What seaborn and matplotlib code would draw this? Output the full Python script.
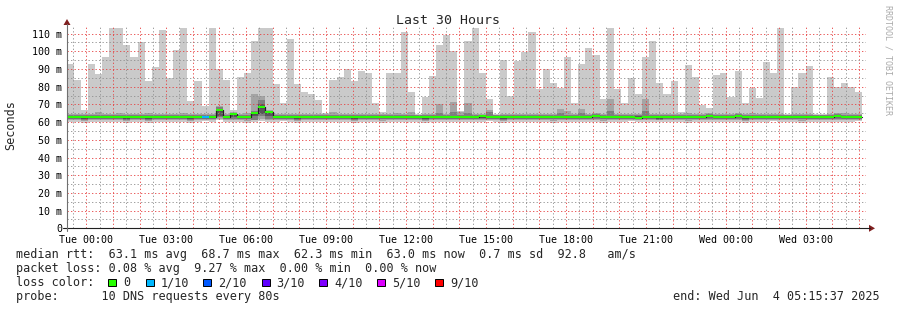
import numpy as np
import pandas as pd
import matplotlib
matplotlib.use("Agg")
import matplotlib.pyplot as plt
from matplotlib.lines import Line2D
from matplotlib.patches import Rectangle, Polygon
import seaborn as sns

# ---------------- data ----------------
start_hour = -0.7397    # Mon 23:15:37, in hours relative to Tue 00:00
end_hour = 29.2603      # Wed 05:15:37
step_hours = 16 / 60    # 960 s consolidation step

rtt_max = [
    92.7, 84.0, 67.0, 92.7, 87.0, 97.0, 113.0, 113.0, 103.4, 96.6,
    105.0, 83.0, 91.0, 112.0, 84.7, 101.0, 113.0, 72.0, 83.0, 69.0,
    113.0, 90.0, 84.0, 66.7, 85.3, 88.0, 105.6, 113.0, 113.0, 81.4,
    71.0, 107.0, 81.4, 76.8, 75.7, 72.3, 65.0, 84.0, 85.3, 90.0,
    83.0, 89.0, 88.0, 71.0, 65.5, 88.0, 88.0, 111.0, 76.8, 64.4,
    74.0, 86.0, 103.4, 109.0, 100.0, 66.0, 105.6, 113.0, 88.0, 73.0,
    64.4, 95.0, 75.0, 94.4, 99.4, 111.0, 78.5, 90.0, 82.0, 79.0,
    96.6, 71.0, 92.7, 101.7, 97.7, 73.0, 113.0, 78.5, 71.0, 84.7,
    75.7, 97.0, 105.6, 82.0, 75.7, 83.0, 65.5, 92.0, 85.3, 69.5,
    67.8, 86.4, 88.0, 74.0, 88.7, 70.6, 79.0, 73.4, 93.8, 87.6,
    113.0, 64.3, 79.7, 87.6, 91.5, 64.3, 64.3, 85.3, 79.7, 82.0,
    79.7, 76.8,
]
rtt_hi2 = [
    64.6, 64.6, 64.6, 64.6, 65.6, 64.6, 64.6, 65.2, 64.6, 64.6,
    64.6, 65.3, 64.6, 64.6, 64.6, 64.6, 65.0, 64.6, 64.6, 64.6,
    64.6, 69.0, 64.6, 65.6, 64.6, 65.0, 75.8, 74.7, 66.8, 64.6,
    64.6, 64.6, 64.6, 64.6, 64.6, 64.6, 64.6, 65.6, 64.6, 64.6,
    64.6, 64.6, 64.6, 64.6, 64.6, 64.6, 65.4, 64.6, 65.6, 64.2,
    64.6, 64.6, 70.2, 64.6, 71.4, 65.8, 70.7, 64.6, 64.6, 66.8,
    64.2, 64.6, 64.6, 64.6, 64.6, 64.8, 64.6, 64.6, 64.6, 67.4,
    66.0, 64.6, 67.4, 64.6, 64.9, 64.6, 73.0, 64.6, 64.6, 64.6,
    64.6, 73.0, 64.6, 64.6, 64.6, 64.6, 64.6, 65.0, 64.6, 64.6,
    64.9, 64.6, 64.6, 64.6, 64.9, 64.6, 65.2, 64.6, 64.6, 64.6,
    64.6, 64.1, 64.6, 64.6, 64.6, 64.1, 64.1, 64.6, 64.9, 65.0,
    64.6, 64.6,
]
rtt_hi3 = [
    63.9, 63.9, 63.9, 63.9, 63.9, 63.9, 63.9, 63.9, 63.9, 63.9,
    63.9, 63.9, 63.9, 63.9, 63.9, 63.9, 63.9, 63.9, 63.9, 63.9,
    63.9, 68.6, 63.8, 65.0, 63.8, 63.8, 66.5, 72.4, 66.2, 63.8,
    63.9, 63.9, 63.9, 63.9, 63.9, 63.9, 63.9, 63.9, 63.9, 63.9,
    63.9, 63.9, 63.9, 63.9, 63.9, 63.9, 63.9, 63.9, 63.9, 63.9,
    63.9, 63.9, 65.0, 63.9, 65.5, 63.9, 65.2, 63.9, 64.0, 65.5,
    63.9, 63.9, 63.9, 63.9, 63.9, 63.9, 63.9, 63.9, 63.9, 65.0,
    63.9, 63.9, 65.0, 63.9, 64.3, 63.9, 66.0, 63.9, 63.9, 63.9,
    63.9, 66.0, 63.9, 63.9, 63.9, 63.9, 63.9, 63.9, 63.9, 63.9,
    64.3, 63.9, 63.9, 63.9, 64.3, 63.9, 63.9, 63.9, 63.9, 63.9,
    63.9, 63.9, 63.9, 63.9, 63.9, 63.9, 63.9, 63.9, 64.3, 63.9,
    63.9, 63.9,
]
rtt_hi4 = [
    63.5, 63.5, 63.5, 63.5, 63.5, 63.5, 63.5, 63.5, 63.5, 63.5,
    63.5, 63.5, 63.5, 63.5, 63.5, 63.5, 63.5, 63.5, 63.5, 63.5,
    63.5, 67.5, 63.4, 64.7, 63.4, 63.4, 65.6, 70.0, 65.8, 63.4,
    63.5, 63.5, 63.5, 63.5, 63.5, 63.5, 63.5, 63.5, 63.5, 63.5,
    63.5, 63.5, 63.5, 63.5, 63.5, 63.5, 63.5, 63.5, 63.5, 63.5,
    63.5, 63.5, 63.5, 63.5, 63.5, 63.5, 63.5, 63.5, 63.7, 63.5,
    63.5, 63.5, 63.5, 63.5, 63.5, 63.5, 63.5, 63.5, 63.5, 63.5,
    63.5, 63.5, 63.5, 63.5, 64.0, 63.5, 63.5, 63.5, 63.5, 63.5,
    63.5, 63.5, 63.5, 63.5, 63.5, 63.5, 63.5, 63.5, 63.5, 63.5,
    64.0, 63.5, 63.5, 63.5, 64.0, 63.5, 63.5, 63.5, 63.5, 63.5,
    63.5, 63.5, 63.5, 63.5, 63.5, 63.5, 63.5, 63.5, 64.0, 63.5,
    63.5, 63.5,
]
rtt_median = [
    63.0, 62.8, 63.0, 63.0, 63.0, 63.0, 63.0, 63.0, 63.0, 63.0,
    63.0, 63.0, 63.0, 63.0, 63.0, 63.0, 63.0, 63.0, 63.0, 63.0,
    63.0, 66.7, 62.8, 64.3, 62.9, 62.9, 65.3, 68.8, 65.5, 62.9,
    63.0, 63.0, 62.6, 62.6, 63.0, 63.0, 63.0, 63.0, 62.8, 63.0,
    62.6, 62.6, 63.0, 63.0, 63.0, 63.0, 63.0, 63.0, 63.0, 63.0,
    62.6, 63.0, 63.0, 63.0, 63.0, 63.0, 63.0, 62.8, 63.3, 63.0,
    63.0, 63.0, 63.0, 63.0, 63.0, 63.0, 63.0, 63.0, 63.0, 63.0,
    63.0, 63.0, 63.0, 63.0, 63.6, 63.0, 63.0, 63.0, 63.0, 63.0,
    62.5, 63.0, 63.0, 63.0, 63.0, 63.0, 63.0, 63.0, 63.0, 63.0,
    63.6, 63.0, 63.0, 63.0, 63.6, 63.0, 63.0, 63.0, 63.0, 63.0,
    63.0, 63.0, 63.0, 63.0, 63.0, 62.6, 62.6, 63.0, 63.6, 63.0,
    63.0, 63.0,
]
rtt_lo4 = [
    62.4, 62.3, 62.0, 62.4, 62.4, 62.4, 62.4, 62.4, 62.0, 62.4,
    62.4, 62.0, 62.4, 62.4, 62.4, 62.4, 62.4, 62.0, 62.4, 62.4,
    62.4, 63.5, 62.3, 62.6, 62.4, 62.4, 63.5, 64.5, 63.5, 62.4,
    62.4, 62.4, 62.0, 62.2, 62.4, 62.4, 62.4, 62.4, 62.3, 62.4,
    62.0, 62.2, 62.4, 62.4, 62.4, 62.4, 62.4, 62.4, 62.4, 62.4,
    62.0, 62.4, 62.4, 62.4, 62.4, 62.4, 62.4, 62.3, 62.5, 62.4,
    62.4, 62.0, 62.4, 62.4, 62.4, 62.4, 62.4, 62.4, 62.4, 62.4,
    62.4, 62.4, 62.4, 62.4, 62.6, 62.4, 62.4, 62.4, 62.4, 62.4,
    62.0, 62.4, 62.4, 62.0, 62.4, 62.4, 62.4, 62.4, 62.4, 62.4,
    62.6, 62.4, 62.4, 62.4, 62.6, 62.0, 62.4, 62.4, 62.4, 62.4,
    62.4, 62.4, 62.4, 62.4, 62.4, 62.1, 62.1, 62.4, 62.6, 62.4,
    62.4, 62.4,
]
rtt_lo3 = [
    61.8, 61.8, 61.3, 61.8, 61.8, 61.8, 61.8, 61.8, 61.3, 61.8,
    61.8, 61.3, 61.8, 61.8, 61.8, 61.8, 61.8, 61.3, 61.8, 61.8,
    61.8, 62.8, 61.8, 61.8, 61.8, 61.8, 61.3, 63.5, 61.8, 61.8,
    61.8, 61.8, 61.3, 61.8, 61.8, 61.8, 61.8, 61.8, 61.8, 61.8,
    61.3, 61.8, 61.8, 61.8, 61.8, 61.8, 61.8, 61.8, 61.8, 61.8,
    61.3, 61.8, 61.8, 61.8, 61.8, 61.8, 61.8, 61.8, 61.8, 61.8,
    61.8, 61.3, 61.8, 61.8, 61.8, 61.8, 61.8, 61.8, 61.8, 61.8,
    61.8, 61.8, 61.8, 61.8, 61.8, 61.8, 61.8, 61.8, 61.8, 61.8,
    61.8, 61.8, 61.8, 61.3, 61.8, 61.8, 61.8, 61.8, 61.8, 61.8,
    61.8, 61.8, 61.8, 61.8, 61.8, 61.3, 61.8, 61.8, 61.8, 61.8,
    61.8, 61.8, 61.8, 61.8, 61.8, 61.8, 61.8, 61.8, 61.8, 61.8,
    61.8, 61.8,
]
rtt_lo2 = [
    61.0, 61.0, 60.6, 61.0, 61.2, 61.0, 61.0, 61.2, 60.6, 61.0,
    61.0, 60.6, 61.0, 61.2, 61.0, 61.0, 61.0, 60.6, 61.0, 61.3,
    61.0, 62.0, 61.0, 61.2, 61.0, 60.6, 61.0, 62.0, 61.2, 61.0,
    61.3, 61.0, 60.6, 61.0, 61.0, 61.2, 61.0, 61.0, 61.0, 61.0,
    60.6, 61.0, 61.0, 61.2, 60.6, 61.0, 61.0, 61.0, 61.2, 61.0,
    60.6, 61.0, 61.0, 61.0, 61.2, 61.0, 61.0, 61.0, 61.0, 61.3,
    61.0, 60.6, 61.0, 61.0, 61.0, 61.2, 61.0, 61.0, 60.6, 61.0,
    61.0, 61.0, 61.0, 61.2, 61.0, 60.6, 61.0, 61.0, 61.0, 61.3,
    61.0, 61.0, 61.0, 61.0, 61.2, 61.0, 61.0, 60.6, 61.0, 61.0,
    61.2, 61.0, 61.0, 61.0, 61.0, 60.6, 61.0, 61.0, 61.2, 61.3,
    61.0, 61.0, 61.0, 60.6, 61.0, 61.0, 61.0, 61.0, 61.2, 61.0,
    61.0, 61.3,
]
rtt_min = [
    60.0, 60.0, 59.4, 60.0, 60.0, 60.0, 60.0, 60.0, 59.4, 60.0,
    60.0, 59.4, 60.0, 60.0, 60.0, 60.0, 60.0, 59.4, 60.0, 60.4,
    60.0, 61.0, 60.0, 60.0, 60.0, 59.4, 60.0, 60.5, 60.0, 60.0,
    60.4, 60.0, 59.4, 60.0, 60.0, 60.0, 60.0, 60.0, 60.0, 60.0,
    59.4, 60.0, 60.0, 60.0, 59.4, 60.0, 60.0, 60.0, 60.0, 60.0,
    59.4, 60.0, 60.0, 60.0, 60.0, 60.0, 60.0, 60.0, 60.0, 60.4,
    60.0, 59.4, 60.0, 60.0, 60.0, 60.0, 60.0, 60.0, 59.4, 60.0,
    60.0, 60.0, 60.0, 60.0, 60.0, 59.4, 60.0, 60.0, 60.0, 60.4,
    60.0, 60.0, 60.0, 60.0, 60.0, 60.0, 60.0, 59.4, 60.0, 60.0,
    60.0, 60.0, 60.0, 60.0, 60.0, 59.4, 60.0, 60.0, 60.0, 60.4,
    60.0, 60.0, 60.0, 59.4, 60.0, 60.0, 60.0, 60.0, 60.0, 60.0,
    60.0, 60.4,
]
loss_tenths = [
    0, 0, 0, 0, 0, 0, 0, 0, 0, 0,
    0, 0, 0, 0, 0, 0, 0, 0, 0, 1,
    0, 0, 0, 0, 0, 0, 0, 0, 0, 0,
    0, 0, 0, 0, 0, 0, 0, 0, 0, 0,
    0, 0, 0, 0, 0, 0, 0, 0, 0, 0,
    0, 0, 0, 0, 0, 0, 0, 0, 0, 0,
    0, 0, 0, 0, 0, 0, 0, 0, 0, 0,
    0, 0, 0, 0, 0, 0, 0, 0, 0, 0,
    0, 0, 0, 0, 0, 0, 0, 0, 0, 0,
    0, 0, 0, 0, 0, 0, 0, 0, 0, 0,
    0, 0, 0, 0, 0, 0, 0, 0, 0, 0,
    0, 0,
]

loss_levels = [0, 1, 2, 3, 4, 5, 9]
loss_labels = ["0", "1/10", "2/10", "3/10", "4/10", "5/10", "9/10"]
loss_colors = ["#26ff00", "#00b8ff", "#0059ff", "#5e00ff", "#7e00ff", "#dd00ff", "#ff0000"]

xtick_hours = [0, 3, 6, 9, 12, 15, 18, 21, 24, 27]
xtick_labels = ["Tue 00:00", "Tue 03:00", "Tue 06:00", "Tue 09:00", "Tue 12:00",
                "Tue 15:00", "Tue 18:00", "Tue 21:00", "Wed 00:00", "Wed 03:00"]
ytick_values = [0, 10, 20, 30, 40, 50, 60, 70, 80, 90, 100, 110]
ytick_labels = ["0", "10 m", "20 m", "30 m", "40 m", "50 m", "60 m",
                "70 m", "80 m", "90 m", "100 m", "110 m"]

title_text = "Last 30 Hours"
ylabel_text = "Seconds"
stats_rtt = "median rtt:  63.1 ms avg  68.7 ms max  62.3 ms min  63.0 ms now  0.7 ms sd  92.8   am/s"
stats_loss = "packet loss: 0.08 % avg  9.27 % max  0.00 % min  0.00 % now"
loss_caption = "loss color:"
probe_text = "probe:      10 DNS requests every 80s"
end_text = "end: Wed Jun  4 05:15:37 2025"
watermark = "RRDTOOL / TOBI OETIKER"

# ---------------- style ----------------
sns.set_style("white")
plt.rcParams["font.family"] = ["DejaVu Sans Mono", "DejaVu Sans"]
plt.rcParams["axes.unicode_minus"] = False

W, H = 897, 310
fig = plt.figure(figsize=(W / 100, H / 100), dpi=100, facecolor="white")


def fx(px):
    return px / W


def fy(py):
    return 1 - py / H


AX_L, AX_R, AX_T, AX_B = 66.5, 866.0, 26.0, 228.3
PX_PER_M = 1.77
Y_TOP = (AX_B - AX_T) / PX_PER_M

GRID_MINOR = (0.56, 0.56, 0.56, 0.40)
GRID_MAJOR = (0.90, 0.25, 0.25, 0.40)
AXIS_COL = "#202020"
ARROW_COL = (0.50, 0.12, 0.12)

ax = fig.add_axes([fx(AX_L), fy(AX_B), (AX_R - AX_L) / W, (AX_B - AX_T) / H])
ax.set_facecolor("white")
for s in ax.spines.values():
    s.set_visible(False)

n = len(rtt_max)
edges = start_hour + step_hours * np.arange(n + 1)


def stepvals(v):
    v = np.asarray(v, dtype=float)
    return np.append(v, v[-1])


smoke = [
    (rtt_min, rtt_max, "#cacaca"),
    (rtt_lo2, rtt_hi2, "#a4a4a4"),
    (rtt_lo3, rtt_hi3, "#7e7e7e"),
    (rtt_lo4, rtt_hi4, "#585858"),
]
for lo, hi, col in smoke:
    ax.fill_between(edges, stepvals(lo), stepvals(hi), step="post",
                    color=col, linewidth=0, zorder=1)

# median: dark step outline (seaborn) + loss-coloured segments on top
df_med = pd.DataFrame({"hour": edges, "median": stepvals(rtt_median)})
sns.lineplot(data=df_med, x="hour", y="median", estimator=None,
             drawstyle="steps-post", color="#202020", linewidth=0.9,
             ax=ax, zorder=3)
color_of = dict(zip(loss_levels, loss_colors))
seg_colors = [color_of[k] for k in loss_tenths]
ax.hlines(rtt_median, edges[:-1], edges[1:], colors=seg_colors,
          linewidth=1.1, zorder=4, antialiased=False)

ax.set_xlim(start_hour, end_hour)
ax.set_ylim(0, Y_TOP)
ax.set_xlabel("")
ax.set_ylabel("")

# ticks & grid
hours = np.arange(0, 30)
ax.set_xticks(hours)
ax.set_xticklabels([xtick_labels[xtick_hours.index(h)] if h in xtick_hours else ""
                    for h in hours])
ax.set_xticks(np.arange(-0.5, 29.0, 1.0), minor=True)
ax.set_yticks(ytick_values)
ax.set_yticklabels(ytick_labels)
ax.set_yticks(np.arange(5, 115, 10), minor=True)

dots = (0, (1.6, 2.6))
ax.grid(True, which="major", color=GRID_MAJOR, linestyle=dots, linewidth=0.6)
ax.grid(True, which="minor", color=GRID_MINOR, linestyle=dots, linewidth=0.6)
ax.set_axisbelow(False)

ax.tick_params(axis="x", which="major", direction="inout", length=3, width=0.7,
               color=GRID_MAJOR, labelsize=7.2, pad=3, labelcolor="black")
ax.tick_params(axis="x", which="minor", direction="inout", length=2, width=0.7,
               color=GRID_MINOR)
ax.tick_params(axis="y", which="major", direction="inout", length=3, width=0.7,
               color=GRID_MAJOR, labelsize=7.2, pad=1.8, labelcolor="black")
ax.tick_params(axis="y", which="minor", direction="inout", length=2, width=0.7,
               color=GRID_MINOR)

# axis lines with arrows (rrdtool style)
fig.add_artist(Line2D([fx(63), fx(870)], [fy(AX_B), fy(AX_B)],
                      color=AXIS_COL, linewidth=0.8))
fig.add_artist(Line2D([fx(67), fx(67)], [fy(AX_B + 3), fy(24)],
                      color="#707070", linewidth=0.8))
fig.add_artist(Polygon([[fx(869), fy(AX_B - 3.5)], [fx(869), fy(AX_B + 3.5)],
                        [fx(875), fy(AX_B)]], closed=True,
                       transform=fig.transFigure, color=ARROW_COL, linewidth=0))
fig.add_artist(Polygon([[fx(63.5), fy(25)], [fx(70.5), fy(25)], [fx(67), fy(19)]],
                       closed=True, transform=fig.transFigure, color=ARROW_COL,
                       linewidth=0))

# texts
fig.text(fx(448), fy(24), title_text, ha="center", va="baseline", fontsize=9.5)
fig.text(fx(11), fy(125), ylabel_text, ha="center", va="center",
         rotation=90, fontsize=8.5)
fig.text(fx(888), fy(60), watermark, ha="center", va="center", rotation=270,
         fontsize=6, color="#aaaaaa")

fig.text(fx(16), fy(258), stats_rtt, ha="left", va="baseline", fontsize=8.5)
fig.text(fx(16), fy(272), stats_loss, ha="left", va="baseline", fontsize=8.5)
fig.text(fx(16), fy(286), loss_caption, ha="left", va="baseline", fontsize=8.5)
fig.text(fx(16), fy(300), probe_text, ha="left", va="baseline", fontsize=8.5)
fig.text(fx(880), fy(300), end_text, ha="right", va="baseline", fontsize=8.5)

square_x = [108, 146, 203, 262, 319, 377, 435]
label_x = [123, 161, 218, 276, 334, 392, 450]
for sx, lx, lab, col in zip(square_x, label_x, loss_labels, loss_colors):
    fig.add_artist(Rectangle((fx(sx), fy(286)), 7.5 / W, 7.5 / H,
                             transform=fig.transFigure, facecolor=col,
                             edgecolor="black", linewidth=0.7))
    fig.text(fx(lx), fy(286), lab, ha="left", va="baseline", fontsize=8.5)

fig.savefig("out.png", dpi=100, facecolor="white")
